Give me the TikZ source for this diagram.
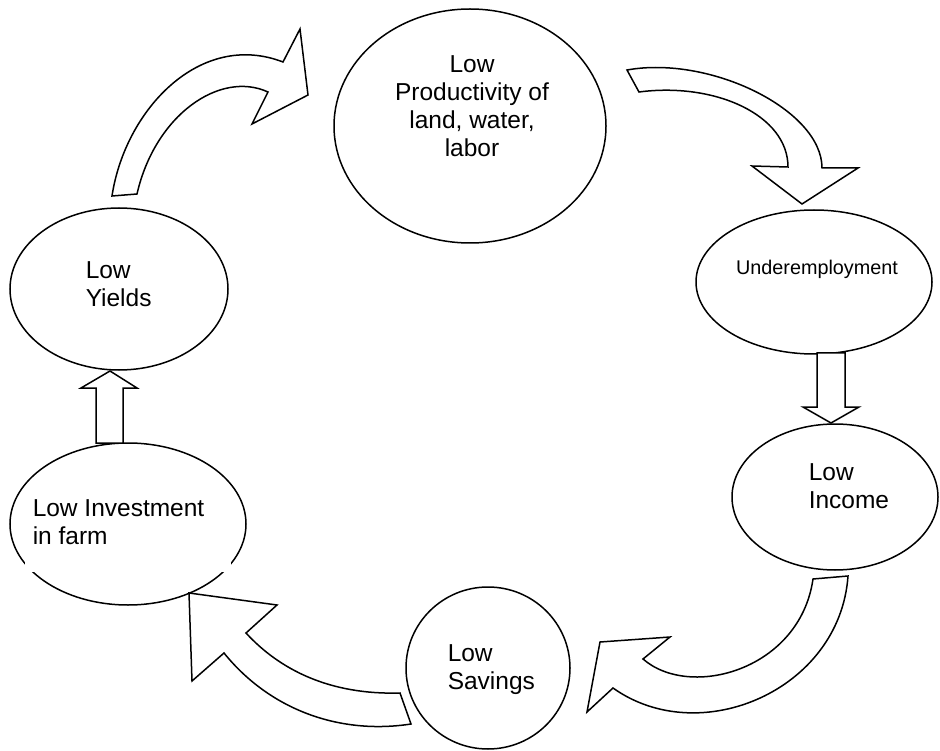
\documentclass[tikz,border=0pt]{standalone}
\usepackage{fontspec}
\setmainfont{Liberation Sans}
\usetikzlibrary{positioning,shapes}

\begin{document}
\begin{tikzpicture}[x=1pt,y=-1pt,
                    line width=1.5pt,
                    main node/.style={ellipse,draw,inner sep=0pt,outer sep=0pt},
                    cycle text/.style={inner sep=0pt,align=left,font=\fontsize{24.5}{28}\selectfont},
                    block arrow/.style={draw,fill=white,line join=miter}
                   ]
  \useasboundingbox (0,0) rectangle (940,751);

  % the six stages
  \node[main node,minimum width=272pt,minimum height=234pt] (prod) at (470,126) {};
  \node[main node,minimum width=236pt,minimum height=144pt] (under) at (814,282) {};
  \node[main node,minimum width=206pt,minimum height=146pt] (income) at (835,497) {};
  \node[main node,minimum width=164pt,minimum height=162pt] (savings) at (488,668) {};
  \node[main node,minimum width=236pt,minimum height=162pt] (invest) at (128,524) {};
  \node[main node,minimum width=218pt,minimum height=162pt] (yields) at (119,289) {};
  \fill[white] (25,500) rectangle (231,572);

  % base = last line of the text
  \node[cycle text,align=center,anchor=base] (prodtext) at (472,157) {Low\\Productivity of\\land, water,\\labor};
  \node[cycle text,anchor=base,font=\fontsize{19.8}{24}\selectfont] (undertext) at (817,275) {Underemployment};
  \node[cycle text,anchor=base west] (incometext) at (808,508) {Low\\Income};
  \node[cycle text,anchor=base west] (savingstext) at (447,689) {Low\\Savings};
  \node[cycle text,anchor=base west] (investtext) at (32,544) {Low Investment\\in farm};
  \node[cycle text,anchor=base west] (yieldstext) at (85,307) {Low\\Yields};

  % curved arrows
  \draw[block arrow] (112,196) .. controls (125,110) and (200,30) .. (283,62)
     -- (300,29) -- (308,95) -- (252,124) -- (268,92)
     .. controls (220,70) and (155,115) .. (137,194) -- cycle;
  \draw[block arrow] (627,70) .. controls (710,55) and (822,110) .. (822,168)
     -- (858,168) -- (802,204) -- (752,166) -- (788,167)
     .. controls (788,115) and (715,82) .. (639,92) -- cycle;
  \draw[block arrow] (848,576) .. controls (840,690) and (700,750) .. (613,688)
     -- (587,712) -- (600,642) -- (670,637) -- (643,659)
     .. controls (690,700) and (800,670) .. (813,579) -- cycle;
  \draw[block arrow] (411,724) .. controls (340,735) and (270,710) .. (224,653)
     -- (192,681) -- (189,593) -- (277,605) -- (246,633)
     .. controls (280,670) and (330,695) .. (400,693) -- cycle;

  % straight arrows
  \draw[block arrow] (817,353) -- (817,407) -- (803,407) -- (831,423)
     -- (859,407) -- (845,407) -- (845,353) -- cycle;
  \draw[block arrow] (96,443) -- (96,388) -- (81,388) -- (110,371)
     -- (137,388) -- (123,388) -- (123,443) -- cycle;
\end{tikzpicture}
\end{document}
